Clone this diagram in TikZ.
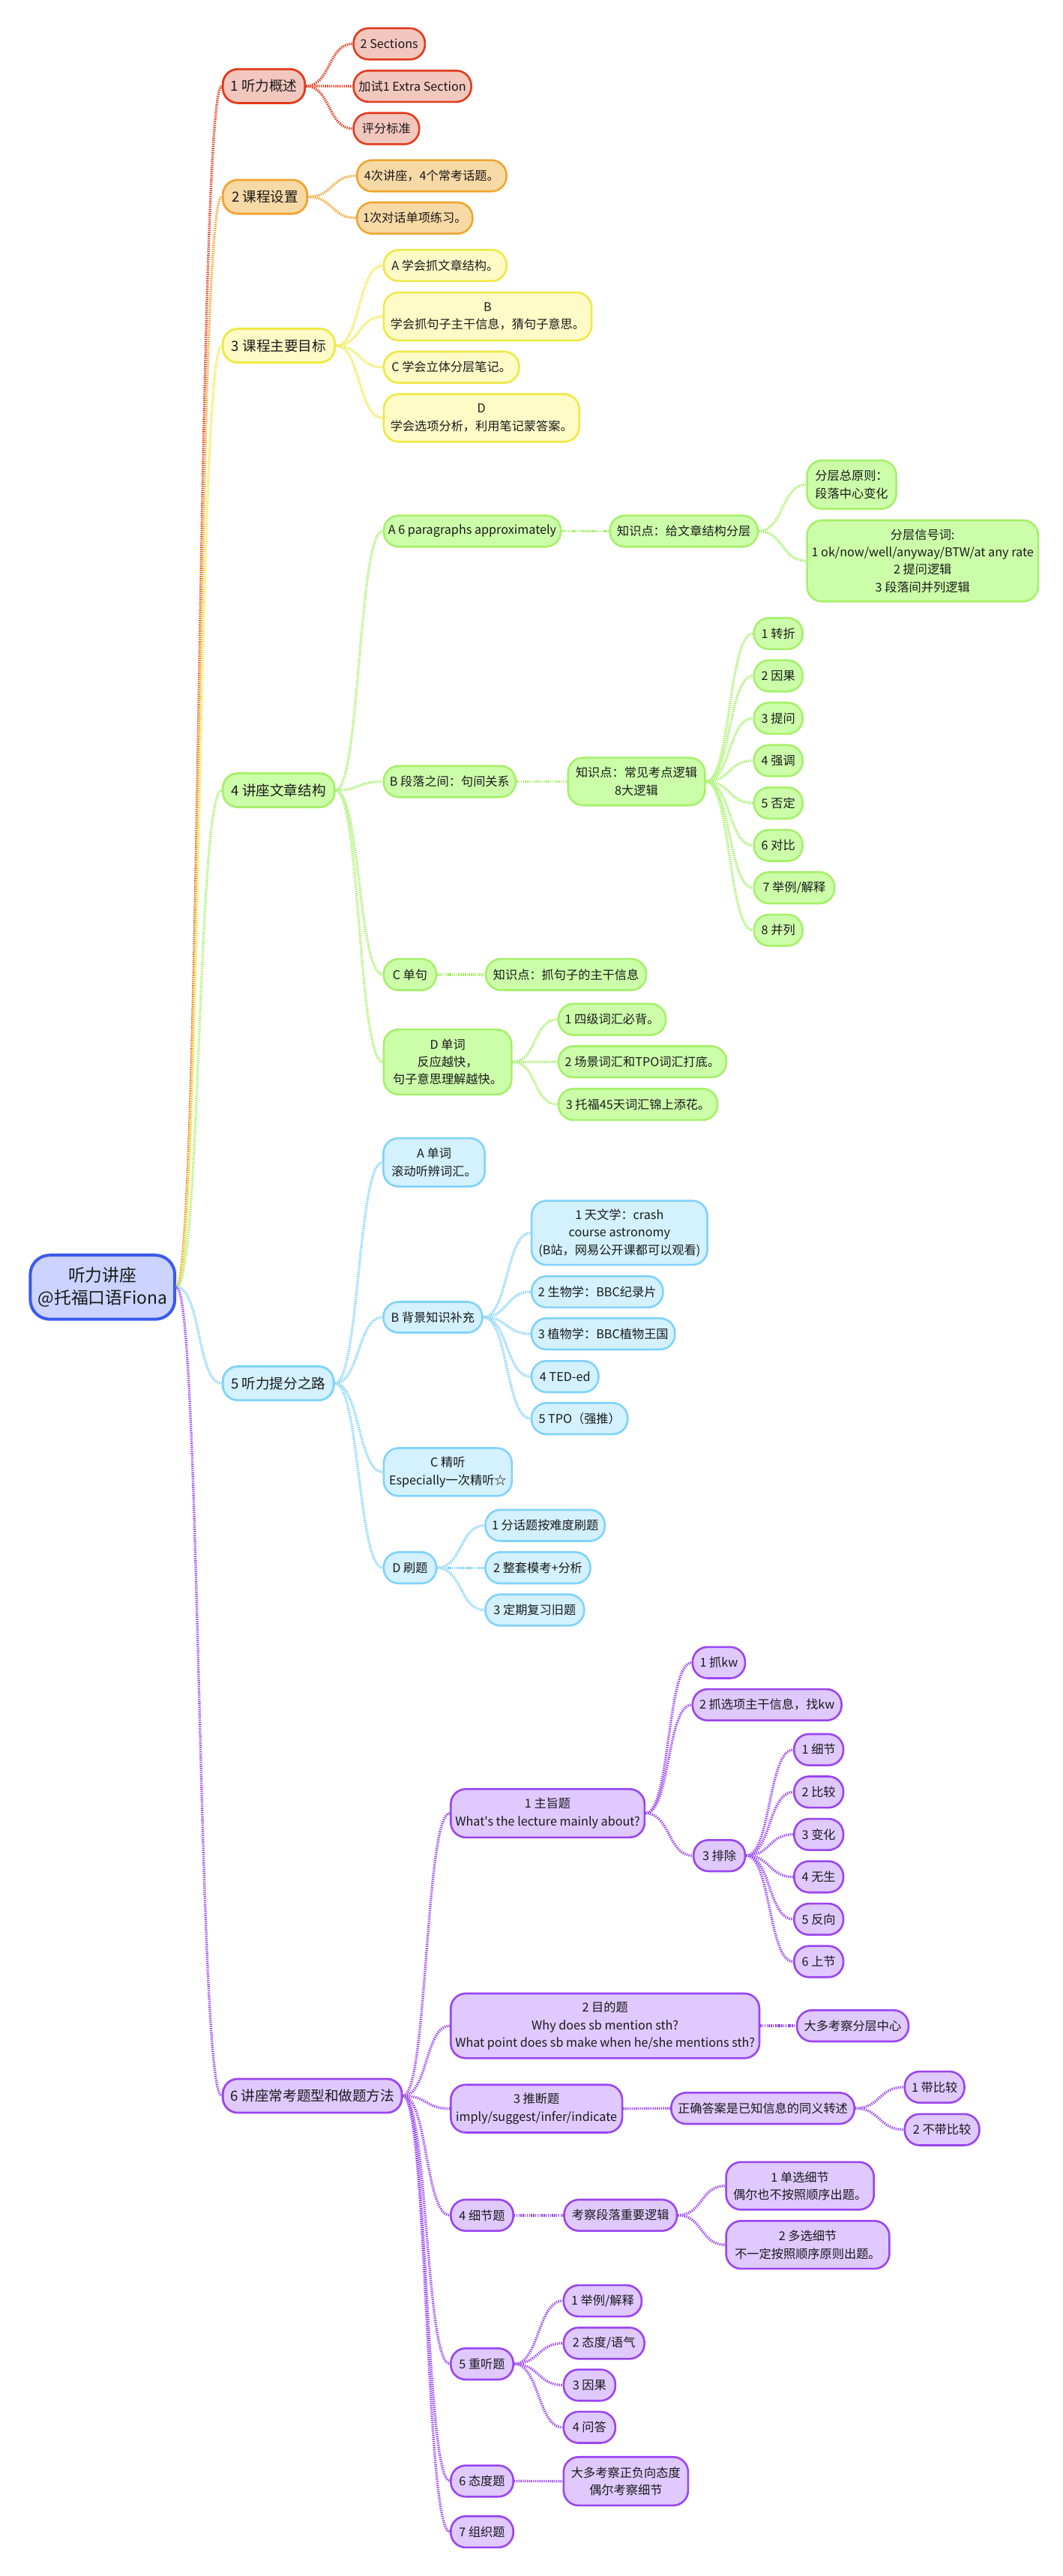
\documentclass[tikz,border=0pt]{standalone}
\usepackage{fontspec}
\newfontfamily\cjk{Noto Sans CJK SC}
\newlength\upx
\setlength\upx{1.0958pt}
\definecolor{colR}{HTML}{E23A1C}\definecolor{colRf}{HTML}{F2C7BE}
\definecolor{colO}{HTML}{EFA52F}\definecolor{colOf}{HTML}{F7D9A5}
\definecolor{colY}{HTML}{F0E844}\definecolor{colYf}{HTML}{FEFBC7}
\definecolor{colG}{HTML}{A6F06A}\definecolor{colGf}{HTML}{CCFEAA}
\definecolor{colB}{HTML}{80D2FC}\definecolor{colBf}{HTML}{D3F1FE}
\definecolor{colP}{HTML}{9A44F2}\definecolor{colPf}{HTML}{DFC9FE}
\definecolor{colK}{HTML}{3A5AEE}\definecolor{colKf}{HTML}{CBD3FE}
\definecolor{txt}{HTML}{1A1A1A}
\newcommand\mn[7]{\node[#1,minimum width=#5*\upx,minimum height=#6*\upx] (#2) at (#3,#4) {#7};}
\newcommand\cn[3]{\draw[#1] (#2.east) .. controls +(15,0) and +(-15,0) .. (#3.west);}
\tikzset{
  basen/.style={rounded corners=10pt, line width=1.3pt, anchor=west, align=center,
    inner xsep=3pt, inner ysep=1pt, text=txt, font=\cjk\fontsize{8.1pt}{11.7pt}\selectfont},
  lvlone/.style={basen, line width=1.4pt, font=\cjk\fontsize{9.3pt}{12pt}\selectfont},
  nR/.style={basen,draw=colR,fill=colRf}, hR/.style={lvlone,draw=colR,fill=colRf},
  nO/.style={basen,draw=colO,fill=colOf}, hO/.style={lvlone,draw=colO,fill=colOf},
  nY/.style={basen,draw=colY,fill=colYf}, hY/.style={lvlone,draw=colY,fill=colYf},
  nG/.style={basen,draw=colG,fill=colGf}, hG/.style={lvlone,draw=colG,fill=colGf},
  nB/.style={basen,draw=colB,fill=colBf}, hB/.style={lvlone,draw=colB,fill=colBf},
  nP/.style={basen,draw=colP,fill=colPf}, hP/.style={lvlone,draw=colP,fill=colPf},
  linkbase/.style={line width=1.7pt, dash pattern=on 0.7pt off 0.7pt},
  eR/.style={linkbase,draw=colR}, eO/.style={linkbase,draw=colO},
  eY/.style={linkbase,draw=colY}, eG/.style={linkbase,draw=colG},
  eB/.style={linkbase,draw=colB}, eP/.style={linkbase,draw=colP},
  rootn/.style={rounded corners=13pt, line width=2pt, draw=colK, fill=colKf, anchor=west,
    align=center, inner sep=2pt, text=txt, font=\cjk\fontsize{11.4pt}{15pt}\selectfont}
}
\begin{document}
\begin{tikzpicture}[x=1.0958pt,y=-1.0958pt]
\useasboundingbox (0,0) rectangle (647,1568);
% root
\mn{rootn}{root}{17.5}{783.5}{88}{39}{听力讲座\\@托福口语Fiona}
% level one
\mn{hR}{g1}{135}{52.4}{50}{20.6}{1 听力概述}
\mn{hO}{g2}{135}{119.8}{51.4}{20.6}{2 课程设置}
\mn{hY}{g3}{135}{210.4}{68.2}{20.6}{3 课程主要目标}
\mn{hG}{g4}{135}{481}{68}{20.6}{4 讲座文章结构}
\mn{hB}{g5}{135}{842}{67.5}{20.6}{5 听力提分之路}
\mn{hP}{g6}{135}{1275.7}{109}{20.6}{6 讲座常考题型和做题方法}
% group 1
\mn{nR}{a1}{214.6}{26.7}{43.5}{19}{2 Sections}
\mn{nR}{a2}{214.6}{52.5}{71.7}{19}{加试1 Extra Section}
\mn{nR}{a3}{214.6}{78.3}{40}{19}{评分标准}
% group 2
\mn{nO}{b1}{216.7}{107}{91}{19}{4次讲座，4个常考话题。}
\mn{nO}{b2}{216.7}{132.7}{70.4}{19}{1次对话单项练习。}
% group 3
\mn{nY}{c1}{233}{161.6}{74.8}{19}{A 学会抓文章结构。}
\mn{nY}{c2}{233}{192.6}{126.5}{29.2}{B\\学会抓句子主干信息，猜句子意思。}
\mn{nY}{c3}{233}{223.5}{82.4}{19}{C 学会立体分层笔记。}
\mn{nY}{c4}{233}{254.4}{119}{29}{D\\学会选项分析，利用笔记蒙答案。}
% group 4
\mn{nG}{d1}{233}{323.3}{107}{19}{A 6 paragraphs approximately}
\mn{nG}{d1k}{370.7}{323.3}{90}{19}{知识点：给文章结构分层}
\mn{nG}{d1ka}{490.7}{295}{54.3}{29.5}{分层总原则：\\段落中心变化}
\mn{nG}{d1kb}{490.7}{341.4}{139.3}{49.4}{分层信号词:\\1 ok/now/well/anyway/BTW/at any rate\\2 提问逻辑\\3 段落间并列逻辑}
\mn{nG}{d2}{233}{475.7}{80.3}{19}{B 段落之间：句间关系}
\mn{nG}{d2k}{345.2}{475.7}{83.3}{29}{知识点：常见考点逻辑\\8大逻辑}
\mn{nG}{d2k1}{458.4}{385.6}{29.6}{19}{1 转折}
\mn{nG}{d2k2}{458.4}{411.4}{29.6}{19}{2 因果}
\mn{nG}{d2k3}{458.4}{437.2}{29.6}{19}{3 提问}
\mn{nG}{d2k4}{458.4}{463}{29.6}{19}{4 强调}
\mn{nG}{d2k5}{458.4}{488.8}{29.6}{19}{5 否定}
\mn{nG}{d2k6}{458.4}{514.6}{29.6}{19}{6 对比}
\mn{nG}{d2k7}{458.4}{540.4}{49}{19}{7 举例/解释}
\mn{nG}{d2k8}{458.4}{566.2}{29.6}{19}{8 并列}
\mn{nG}{d3}{233}{593.2}{32}{19}{C 单句}
\mn{nG}{d3k}{295.2}{593.2}{97.6}{19}{知识点：抓句子的主干信息}
\mn{nG}{d4}{233}{646.4}{77.8}{39.6}{D 单词\\反应越快，\\句子意思理解越快。}
\mn{nG}{d4a}{339.4}{620.5}{65.3}{19}{1 四级词汇必背。}
\mn{nG}{d4b}{339.4}{646.3}{102.2}{19}{2 场景词汇和TPO词汇打底。}
\mn{nG}{d4c}{339.4}{672.2}{96.8}{19}{3 托福45天词汇锦上添花。}
% group 5
\mn{nB}{e1}{232.8}{707.5}{61.7}{29.4}{A 单词\\滚动听辨词汇。}
\mn{nB}{e2}{232.8}{801.8}{60.2}{18.7}{B 背景知识补充}
\mn{nB}{e2a}{323}{750.4}{107}{39}{1 天文学：crash\\course astronomy\\(B站，网易公开课都可以观看)}
\mn{nB}{e2b}{323}{786.3}{80}{19}{2 生物学：BBC纪录片}
\mn{nB}{e2c}{323}{811.9}{87.3}{19}{3 植物学：BBC植物王国}
\mn{nB}{e2d}{323}{837.9}{40.8}{19}{4 TED-ed}
\mn{nB}{e2e}{323}{863.5}{58.5}{19}{5 TPO（强推）}
\mn{nB}{e3}{233}{896}{78}{29.2}{C 精听\\Especially一次精听☆}
\mn{nB}{e4}{233}{954.3}{32}{19}{D 刷题}
\mn{nB}{e4a}{294.9}{928.5}{72.7}{19}{1 分话题按难度刷题}
\mn{nB}{e4b}{294.9}{954.3}{63.9}{19}{2 整套模考+分析}
\mn{nB}{e4c}{294.9}{980}{60.1}{19}{3 定期复习旧题}
% group 6
\mn{nP}{f1}{273.8}{1103.7}{118}{29.4}{1 主旨题\\What{\char39}s the lecture mainly about?}
\mn{nP}{f1a}{421}{1012}{32}{19}{1 抓kw}
\mn{nP}{f1b}{421}{1037.7}{90.7}{19}{2 抓选项主干信息，找kw}
\mn{nP}{f1c}{421.6}{1129.5}{31.4}{19}{3 排除}
\mn{nP}{f1c1}{482.8}{1065}{30}{19}{1 细节}
\mn{nP}{f1c2}{482.8}{1090.8}{30}{19}{2 比较}
\mn{nP}{f1c3}{482.8}{1116.6}{30}{19}{3 变化}
\mn{nP}{f1c4}{482.8}{1142.4}{30}{19}{4 无生}
\mn{nP}{f1c5}{482.8}{1168.2}{30}{19}{5 反向}
\mn{nP}{f1c6}{482.8}{1194}{30}{19}{6 上节}
\mn{nP}{f2}{273.8}{1233.1}{180.2}{39.4}{2 目的题\\Why does sb mention sth?\\What point does sb make when he/she mentions sth?}
\mn{nP}{f2a}{484.5}{1233.1}{68}{19}{大多考察分层中心}
\mn{nP}{f3}{273.8}{1283.5}{104.4}{29.1}{3 推断题\\imply/suggest/infer/indicate}
\mn{nP}{f3a}{408}{1283.3}{111.5}{19}{正确答案是已知信息的同义转述}
\mn{nP}{f3a1}{550.1}{1270.4}{36.4}{19}{1 带比较}
\mn{nP}{f3a2}{550.1}{1296.3}{45.5}{19}{2 不带比较}
\mn{nP}{f4}{273.8}{1348.4}{38.1}{19}{4 细节题}
\mn{nP}{f4a}{342.8}{1348.4}{68.7}{19}{考察段落重要逻辑}
\mn{nP}{f4a1}{441.4}{1330.5}{90}{29}{1 单选细节\\偶尔也不按照顺序出题。}
\mn{nP}{f4a2}{441.4}{1366.4}{99.4}{29.1}{2 多选细节\\不一定按照顺序原则出题。}
\mn{nP}{f5}{273.8}{1438.9}{38.1}{19}{5 重听题}
\mn{nP}{f5a}{342.5}{1400.5}{47.5}{19}{1 举例/解释}
\mn{nP}{f5b}{342.5}{1426.3}{49.2}{19}{2 态度/语气}
\mn{nP}{f5c}{342.5}{1451.8}{31.5}{19}{3 因果}
\mn{nP}{f5d}{342.5}{1477.5}{31.5}{19}{4 问答}
\mn{nP}{f6}{273.8}{1510.2}{38.1}{19}{6 态度题}
\mn{nP}{f6a}{342.5}{1510.3}{75.8}{29.5}{大多考察正负向态度\\偶尔考察细节}
\mn{nP}{f7}{273.8}{1541.1}{38.1}{19}{7 组织题}
% connectors: root
\cn{eR}{root}{g1}\cn{eO}{root}{g2}\cn{eY}{root}{g3}
\cn{eG}{root}{g4}\cn{eB}{root}{g5}\cn{eP}{root}{g6}
% group 1, 2, 3
\cn{eR}{g1}{a1}\cn{eR}{g1}{a2}\cn{eR}{g1}{a3}
\cn{eO}{g2}{b1}\cn{eO}{g2}{b2}
\cn{eY}{g3}{c1}\cn{eY}{g3}{c2}\cn{eY}{g3}{c3}\cn{eY}{g3}{c4}
% group 4
\cn{eG}{g4}{d1}\cn{eG}{g4}{d2}\cn{eG}{g4}{d3}\cn{eG}{g4}{d4}
\cn{eG}{d1}{d1k}\cn{eG}{d1k}{d1ka}\cn{eG}{d1k}{d1kb}
\cn{eG}{d2}{d2k}
\foreach \i in {1,...,8}{\cn{eG}{d2k}{d2k\i}}
\cn{eG}{d3}{d3k}
\cn{eG}{d4}{d4a}\cn{eG}{d4}{d4b}\cn{eG}{d4}{d4c}
% group 5
\cn{eB}{g5}{e1}\cn{eB}{g5}{e2}\cn{eB}{g5}{e3}\cn{eB}{g5}{e4}
\cn{eB}{e2}{e2a}\cn{eB}{e2}{e2b}\cn{eB}{e2}{e2c}\cn{eB}{e2}{e2d}\cn{eB}{e2}{e2e}
\cn{eB}{e4}{e4a}\cn{eB}{e4}{e4b}\cn{eB}{e4}{e4c}
% group 6
\cn{eP}{g6}{f1}\cn{eP}{g6}{f2}\cn{eP}{g6}{f3}\cn{eP}{g6}{f4}
\cn{eP}{g6}{f5}\cn{eP}{g6}{f6}\cn{eP}{g6}{f7}
\cn{eP}{f1}{f1a}\cn{eP}{f1}{f1b}\cn{eP}{f1}{f1c}
\foreach \i in {1,...,6}{\cn{eP}{f1c}{f1c\i}}
\cn{eP}{f2}{f2a}
\cn{eP}{f3}{f3a}\cn{eP}{f3a}{f3a1}\cn{eP}{f3a}{f3a2}
\cn{eP}{f4}{f4a}\cn{eP}{f4a}{f4a1}\cn{eP}{f4a}{f4a2}
\cn{eP}{f5}{f5a}\cn{eP}{f5}{f5b}\cn{eP}{f5}{f5c}\cn{eP}{f5}{f5d}
\cn{eP}{f6}{f6a}
\end{tikzpicture}
\end{document}
